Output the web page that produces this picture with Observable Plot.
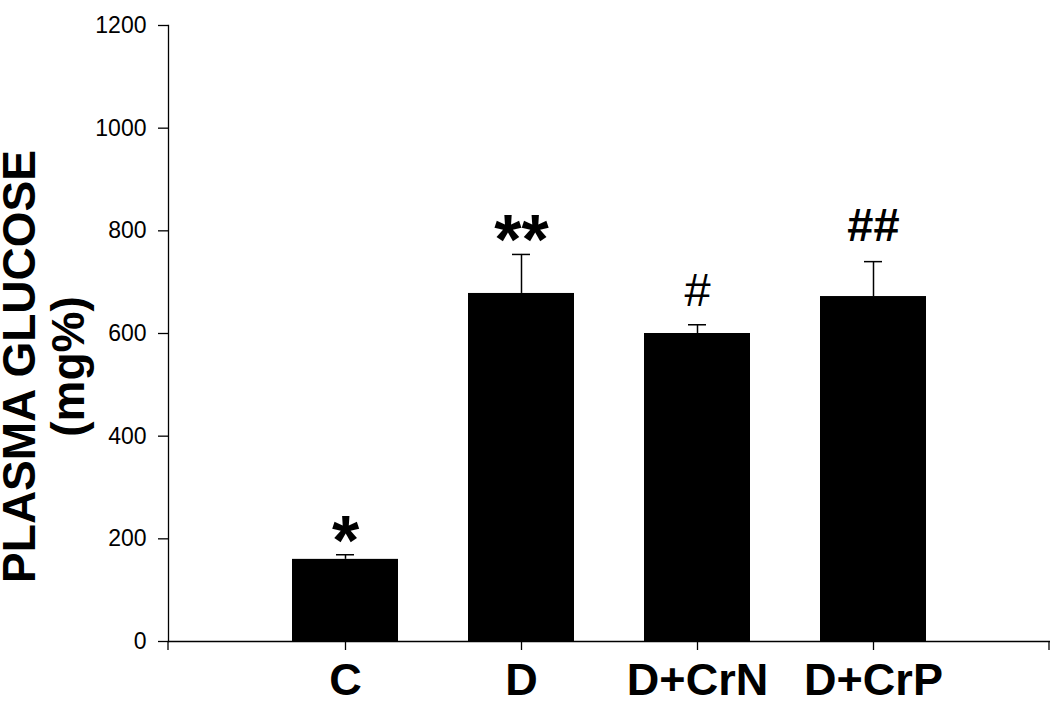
<!DOCTYPE html>
<html><head><meta charset="utf-8">
<script src="https://cdn.jsdelivr.net/npm/d3@7"></script>
<script src="https://cdn.jsdelivr.net/npm/@observablehq/plot@0.6"></script>
<style>
html,body{margin:0;padding:0;background:#fff;}
</style>
</head><body><div id="chart"></div>
<script>
const groups = ["C", "D", "D+CrN", "D+CrP"];
const means = [160, 678, 600, 672];
const sems = [9, 76, 17, 68];
const sigMarks = ["*", "**", "#", "##"];
const yTicks = [0, 200, 400, 600, 800, 1000, 1200];
const yTitle1 = "PLASMA GLUCOSE";
const yTitle2 = "(mg%)";

const data = groups.map((g, i) => ({group: g, mean: means[i], top: means[i] + sems[i], mark: sigMarks[i]}));
const stars = data.filter(d => d.mark.startsWith("*"));
const hashBold = data.filter(d => d.mark === "##");
const hashReg = data.filter(d => d.mark === "#");
const font = '"Liberation Sans", Arial, Helvetica, sans-serif';

const chart = Plot.plot({
  width: 1050, height: 707,
  marginLeft: 168, marginRight: 1, marginTop: 25, marginBottom: 66,
  style: {fontFamily: font, background: "#fff", color: "#000", overflow: "visible"},
  x: {domain: groups, paddingInner: 0.4, paddingOuter: 0.7, axis: null},
  y: {domain: [0, 1200], axis: null},
  marks: [
    Plot.barY(data, {x: "group", y: "mean", fill: "#000"}),
    Plot.ruleX(data, {x: "group", y1: "mean", y2: "top", stroke: "#000", strokeWidth: 1.5}),
    Plot.tickY(data, {x: "group", y: "top", stroke: "#000", strokeWidth: 1.5, insetLeft: 44, insetRight: 44}),
    Plot.text(stars, {x: "group", y: "top", text: "mark", fontSize: 70, fontWeight: "bold", lineAnchor: "bottom", dy: 10, fill: "#000"}),
    Plot.text(hashReg, {x: "group", y: "top", text: "mark", fontSize: 47, lineAnchor: "bottom", dy: -19, fill: "#000"}),
    Plot.text(hashBold, {x: "group", y: "top", text: "mark", fontSize: 47, fontWeight: "bold", lineAnchor: "bottom", dy: -21, fill: "#000"}),
    Plot.frame({anchor: "left", stroke: "#000", strokeWidth: 1.3}),
    Plot.frame({anchor: "bottom", stroke: "#000", strokeWidth: 1.3}),
    Plot.axisY({ticks: yTicks, tickSize: 10, tickPadding: 12, fontSize: 23, tickFormat: d => String(d), strokeWidth: 1.3, label: null}),
    Plot.axisX({tickSize: 9, tickPadding: 13, fontSize: 45, fontWeight: "bold", strokeWidth: 1.3, label: null, ariaLabel: "xlabels"}),
    Plot.text([yTitle1], {frameAnchor: "left", textAnchor: "middle", rotate: -90, dx: -134, dy: 33, fontSize: 46, fontWeight: "bold", lineAnchor: "bottom", fill: "#000", ariaLabel: "ytitle"}),
    Plot.text([yTitle2], {frameAnchor: "left", textAnchor: "middle", rotate: -90, dx: -85, dy: 33, fontSize: 46, fontWeight: "bold", lineAnchor: "bottom", fill: "#000", ariaLabel: "ytitle"})
  ]
});

// end ticks of the x axis, placed from the library's scales
const sx = chart.scale("x"), sy = chart.scale("y");
const [xa, xb] = sx.range;
const y0 = sy.apply(0);
d3.select(chart).append("g").attr("stroke", "#000").attr("stroke-width", 1.3)
  .selectAll("line").data([xa, xb]).join("line")
  .attr("x1", d => d).attr("x2", d => d).attr("y1", y0).attr("y2", y0 + 9);

// condense bold label text horizontally (along the text direction)
function condense(sel, s) {
  d3.select(chart).selectAll(sel).each(function() {
    const t = this.getAttribute("transform");
    if (t) this.setAttribute("transform", t + ` scale(${s},1)`);
    else {
      const x = +this.getAttribute("x") || 0, y = +this.getAttribute("y") || 0;
      this.removeAttribute("x"); this.removeAttribute("y");
      this.setAttribute("transform", `translate(${x},${y}) scale(${s},1)`);
    }
  });
}
condense('g[aria-label="xlabels"] text', 0.9);
condense('g[aria-label="ytitle"] text', 0.92);

document.getElementById("chart").appendChild(chart);
</script>
</body></html>
